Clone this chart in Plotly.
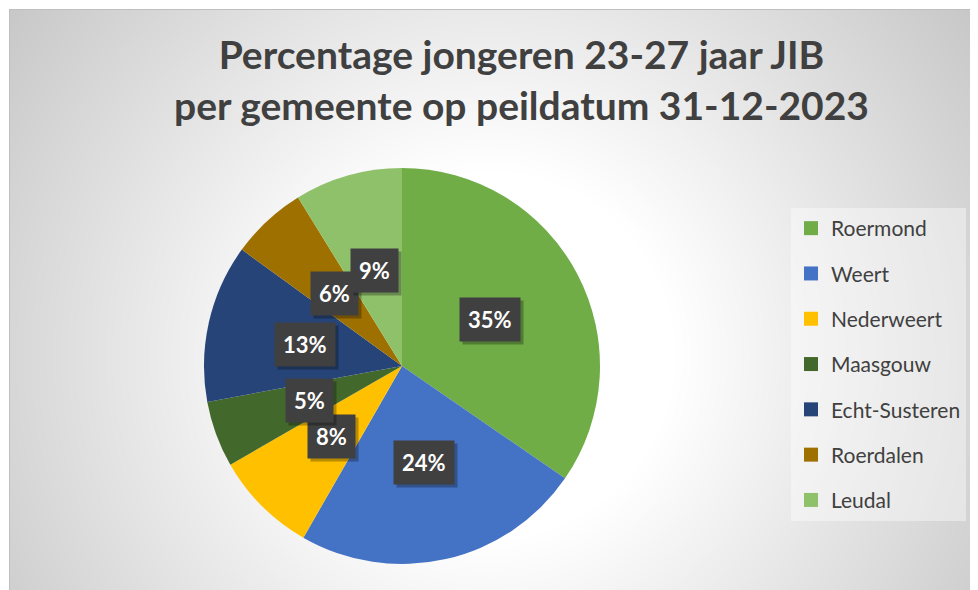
import base64, zlib, struct, math
import numpy as np
import plotly.graph_objects as go

# ---------------- data ----------------
categories = ["Roermond", "Weert", "Nederweert", "Maasgouw", "Echt-Susteren", "Roerdalen", "Leudal"]
values = [34.6, 23.7, 8.4, 5.4, 12.9, 6.2, 8.8]
colors = ["#70AD47", "#4472C4", "#FFC000", "#43682B", "#264478", "#9E7000", "#8FC16A"]
title_text = "Percentage jongeren 23-27 jaar JIB<br>per gemeente op peildatum 31-12-2023"

# ---------------- canvas ----------------
OFF = 8                      # page body margin in the browser
FW, FH = 978 - OFF, 590 - OFF

def px(sx):  # screen x -> paper x
    return (sx - OFF) / FW

def py(sy):  # screen y -> paper y
    return 1 - (sy - OFF) / FH

BX = BY = 9  # chart border (screen px)

def gradient_png(w, h):
    xs = np.arange(w) + BX
    ys = np.arange(h) + BY
    X, Y = np.meshgrid(xs, ys)
    d = np.sqrt((X - 490.0) ** 2 + (Y - 355.0) ** 2)
    v = 255 - 0.135 * np.clip(d - 185, 0, None)
    img = np.clip(v, 0, 255).astype(np.uint8)
    raw = b"".join(b"\x00" + img[r].tobytes() for r in range(h))
    def chunk(t, data):
        c = struct.pack(">I", len(data)) + t + data
        return c + struct.pack(">I", zlib.crc32(t + data) & 0xffffffff)
    png = b"\x89PNG\r\n\x1a\n"
    png += chunk(b"IHDR", struct.pack(">IIBBBBB", w, h, 8, 0, 0, 0, 0))
    png += chunk(b"IDAT", zlib.compress(raw, 9))
    png += chunk(b"IEND", b"")
    return "data:image/png;base64," + base64.b64encode(png).decode()

# pie geometry (screen pixels)
CX, CY, R = 402, 366, 198
dom_x = [px(CX - R), px(CX + R)]
dom_y = [py(CY + R), py(CY - R)]

fig = go.Figure()
fig.add_trace(go.Pie(
    labels=categories, values=values, sort=False, direction="clockwise", rotation=0,
    marker=dict(colors=colors, line=dict(width=0)),
    textinfo="none", hoverinfo="label+percent", showlegend=False,
    domain=dict(x=dom_x, y=dom_y),
))

# legend entries (one group per category so spacing can be set)
for name, col in zip(categories, colors):
    fig.add_trace(go.Scatter(
        x=[None], y=[None], mode="markers", name=name, legendgroup=name,
        marker=dict(symbol="square", size=14, color=col),
    ))

# data labels: percentages placed at half radius on each slice's mid-angle
total = sum(values)
annotations = []
cum = 0.0
for v in values:
    theta = 2 * math.pi * (cum + v / 2) / total
    cum += v
    ax = px(CX + 0.5 * R * math.sin(theta))
    ay = py(CY - 0.5 * R * math.cos(theta))
    txt = "<b>%d%%</b>" % round(100 * v / total)
    common = dict(x=ax, y=ay, xref="paper", yref="paper", text=txt, showarrow=False,
                  xanchor="center", yanchor="middle", borderpad=8)
    annotations.append(dict(common, font=dict(family="Lato", size=22, color="rgba(0,0,0,0)"),
                            bgcolor="rgba(0,0,0,0.28)", xshift=3, yshift=-3))
    annotations.append(dict(common, font=dict(family="Lato", size=22, color="white"),
                            bgcolor="#404040"))

# title
annotations.append(dict(
    x=px(521), y=py(29), xref="paper", yref="paper", xanchor="center", yanchor="top",
    text="<b>" + title_text + "</b>", showarrow=False,
    font=dict(family="Lato", size=39, color="#404040"),
))

fig.update_layout(
    width=FW, height=FH,
    margin=dict(l=0, r=0, t=0, b=0),
    paper_bgcolor="white", plot_bgcolor="rgba(0,0,0,0)",
    xaxis=dict(visible=False), yaxis=dict(visible=False),
    legend=dict(x=px(791), y=py(208), xanchor="left", yanchor="top",
                bgcolor="rgba(255,255,255,0.4)", tracegroupgap=15,
                font=dict(family="Lato", size=21, color="#404040"),
                itemclick=False),
    images=[dict(source=gradient_png(978 - BX, 590 - BY), xref="paper", yref="paper",
                 x=px(BX), y=py(BY), sizex=(978 - BX) / FW, sizey=(590 - BY) / FH,
                 xanchor="left", yanchor="top", sizing="stretch", layer="below")],
    shapes=[dict(type="rect", xref="paper", yref="paper",
                 x0=px(BX + 0.5), y0=-0.1, x1=1.1, y1=py(BY + 0.5),
                 line=dict(color="#BFBFBF", width=1), layer="below")],
    annotations=annotations,
)

fig.write_html("out.html")
